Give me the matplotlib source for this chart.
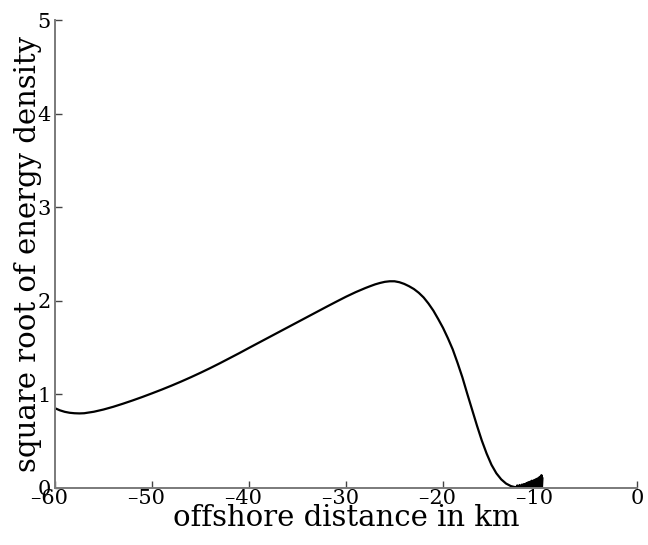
import matplotlib

matplotlib.use("Agg")
import matplotlib.pyplot as plt
from matplotlib.ticker import FuncFormatter
import numpy as np

# smooth part of the profile (km, sqrt of energy density)
dist_km = [
    -60, -59.5, -59, -58.5, -58, -57.5, -57, -56, -55, -54,
    -53, -52, -51, -50, -49, -48, -47, -46, -45, -44,
    -43, -42, -41, -40, -39, -38, -37, -36, -35, -34,
    -33, -32, -31, -30, -29, -28, -27.5, -27, -26.5, -26,
    -25.5, -25, -24.5, -24, -23.5, -23, -22.5, -22, -21.5, -21,
    -20.5, -20, -19.5, -19, -18.5, -18, -17.5, -17, -16.5, -16,
    -15.5, -15, -14.5, -14, -13.5, -13, -12.5,
]
sqrt_energy = [
    0.85, 0.828, 0.812, 0.802, 0.797, 0.795, 0.797, 0.813, 0.837, 0.866,
    0.899, 0.934, 0.971, 1.01, 1.05, 1.092, 1.136, 1.182, 1.23, 1.28,
    1.332, 1.386, 1.44, 1.496, 1.551, 1.606, 1.661, 1.716, 1.771, 1.826,
    1.881, 1.936, 1.99, 2.043, 2.092, 2.136, 2.156, 2.175, 2.19, 2.202,
    2.208, 2.208, 2.198, 2.18, 2.155, 2.125, 2.085, 2.035, 1.97, 1.895,
    1.805, 1.71, 1.60, 1.48, 1.335, 1.18, 1.005, 0.835, 0.665, 0.505,
    0.365, 0.245, 0.155, 0.09, 0.045, 0.018, 0.005,
]

# noisy tail near the shore
tail_km = [
    -12.45, -12.40, -12.35, -12.30, -12.25, -12.20, -12.15, -12.10, -12.05, -12.00,
    -11.95, -11.90, -11.85, -11.80, -11.75, -11.70, -11.65, -11.60, -11.55, -11.50,
    -11.45, -11.40, -11.35, -11.30, -11.25, -11.20, -11.15, -11.10, -11.05, -11.00,
    -10.95, -10.90, -10.85, -10.80, -10.75, -10.70, -10.65, -10.60, -10.55, -10.50,
    -10.45, -10.40, -10.35, -10.30, -10.25, -10.20, -10.15, -10.10, -10.05, -10.00,
    -9.95, -9.90, -9.85, -9.80, -9.75,
]
tail_energy = [
    0.01, 0.0, 0.025, 0.005, 0.02, 0.0, 0.01, 0.03, 0.005, 0.015,
    0.0, 0.02, 0.035, 0.005, 0.025, 0.01, 0.04, 0.015, 0.03, 0.005,
    0.045, 0.02, 0.05, 0.01, 0.035, 0.06, 0.015, 0.05, 0.025, 0.065,
    0.005, 0.055, 0.075, 0.01, 0.06, 0.025, 0.08, 0.0, 0.07, 0.035,
    0.09, 0.0, 0.085, 0.02, 0.10, 0.0, 0.095, 0.015, 0.115, 0.0,
    0.12, 0.005, 0.135, 0.0, 0.10,
]

x_ticks = [-60, -50, -40, -30, -20, -10, 0]
y_ticks = [0, 1, 2, 3, 4, 5]

AXIS_GREY = "#7a7a7a"

plt.rcParams["font.family"] = ["DejaVu Serif"]

fig = plt.figure(figsize=(6.48, 5.45), dpi=100)
ax = fig.add_axes([0.085, 0.105, 0.898, 0.858])

x = np.array(dist_km + tail_km)
y = np.array(sqrt_energy + tail_energy)
ax.plot(x, y, color="black", linewidth=1.6)

ax.set_xlim(-60, 0)
ax.set_ylim(0, 5)
ax.set_xticks(x_ticks)
ax.set_yticks(y_ticks)


def dash_label(v, pos):
    # short dash for negatives, padded so the digits sit over the tick
    if v < 0:
        return "\u2013" + f"{abs(v):g}" + "\u2002"
    return f"{v:g}"


ax.xaxis.set_major_formatter(FuncFormatter(dash_label))

for side in ("top", "right"):
    ax.spines[side].set_visible(False)
for side in ("left", "bottom"):
    ax.spines[side].set_color(AXIS_GREY)
    ax.spines[side].set_linewidth(1.4)

ax.tick_params(axis="both", direction="in", length=5, width=1, color="#444444",
               labelsize=15)
ax.tick_params(axis="x", pad=1)
ax.tick_params(axis="y", pad=3)

ax.set_xlabel("offshore distance in km", fontsize=21)
ax.set_ylabel("square root of energy density", fontsize=21)
ax.xaxis.set_label_coords(0.5, -0.034)
ax.yaxis.set_label_coords(-0.022, 0.5)

fig.savefig("out.png", dpi=100)
